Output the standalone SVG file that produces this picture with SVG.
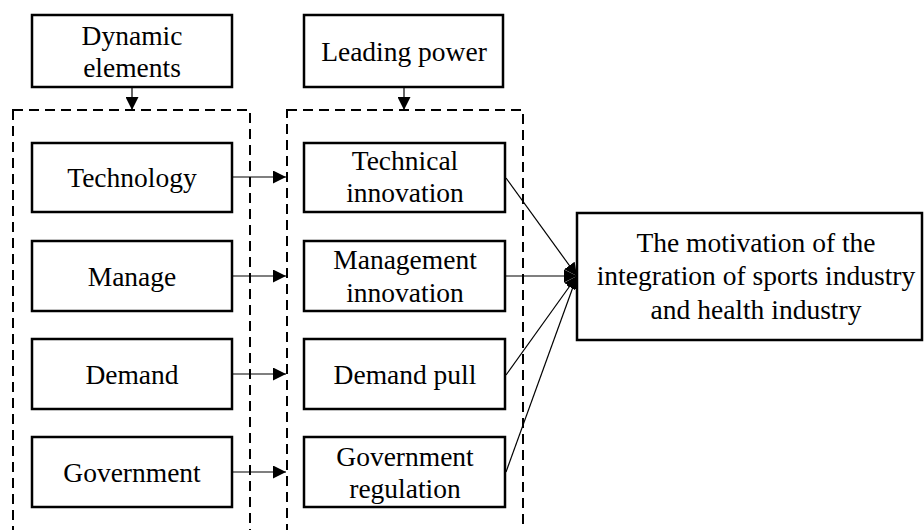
<svg xmlns="http://www.w3.org/2000/svg" width="924" height="530" viewBox="0 0 924 530">
<style>
.box{fill:#fff;stroke:#000;stroke-width:2.5}
.dash{fill:none;stroke:#000;stroke-width:2;stroke-dasharray:10,6}
.t{font-family:"Liberation Serif","Times New Roman",serif;font-size:27.5px;fill:#000;text-anchor:middle}
.ln{stroke:#000;stroke-width:1.2;fill:none}
</style>
<defs>
<marker id="ah2" viewBox="0 0 10 10" refX="10" refY="5" markerWidth="13" markerHeight="13" markerUnits="userSpaceOnUse" orient="auto">
<path d="M0,0 L10,5 L0,10 Z" fill="#000"/>
</marker>
</defs>
<rect width="924" height="530" fill="#fff"/>
<g id="containers">
<rect class="dash" x="13" y="110" width="237" height="440"/>
<rect class="dash" x="287" y="110" width="236" height="440"/>
</g>
<g id="connectors">
<line class="ln" x1="132" y1="87" x2="132" y2="110" marker-end="url(#ah2)"/>
<line class="ln" x1="404" y1="87" x2="404" y2="110" marker-end="url(#ah2)"/>
<line class="ln" x1="233" y1="177" x2="286" y2="177" marker-end="url(#ah2)"/>
<line class="ln" x1="233" y1="276" x2="286" y2="276" marker-end="url(#ah2)"/>
<line class="ln" x1="233" y1="374" x2="286" y2="374" marker-end="url(#ah2)"/>
<line class="ln" x1="233" y1="472" x2="286" y2="472" marker-end="url(#ah2)"/>
<line class="ln" x1="506" y1="178" x2="577" y2="276" marker-end="url(#ah2)"/>
<line class="ln" x1="506" y1="276" x2="577" y2="276" marker-end="url(#ah2)"/>
<line class="ln" x1="506" y1="375" x2="577" y2="276" marker-end="url(#ah2)"/>
<line class="ln" x1="506" y1="472" x2="577" y2="276" marker-end="url(#ah2)"/>
</g>
<g id="dynamic-elements"><rect class="box" x="32" y="15" width="200" height="72"/><text class="t" x="132" y="45">Dynamic</text><text class="t" x="132" y="77">elements</text></g>
<g id="leading-power"><rect class="box" x="304" y="15" width="199" height="72"/><text class="t" x="404" y="61">Leading power</text></g>
<g id="technology"><rect class="box" x="32" y="143" width="200" height="69"/><text class="t" x="132" y="187">Technology</text></g>
<g id="manage"><rect class="box" x="32" y="241" width="200" height="70"/><text class="t" x="132" y="286">Manage</text></g>
<g id="demand"><rect class="box" x="32" y="339" width="200" height="70"/><text class="t" x="132" y="384">Demand</text></g>
<g id="government"><rect class="box" x="32" y="437" width="200" height="70"/><text class="t" x="132" y="482">Government</text></g>
<g id="technical-innovation"><rect class="box" x="304" y="143" width="201" height="69"/><text class="t" x="405" y="170">Technical</text><text class="t" x="405" y="202">innovation</text></g>
<g id="management-innovation"><rect class="box" x="304" y="241" width="201" height="70"/><text class="t" x="405" y="269">Management</text><text class="t" x="405" y="302">innovation</text></g>
<g id="demand-pull"><rect class="box" x="304" y="339" width="201" height="70"/><text class="t" x="405" y="384">Demand pull</text></g>
<g id="government-regulation"><rect class="box" x="304" y="437" width="201" height="70"/><text class="t" x="405" y="466">Government</text><text class="t" x="405" y="498">regulation</text></g>
<g id="motivation"><rect class="box" x="577" y="213" width="345" height="127"/><text class="t" x="756" y="252">The motivation of the</text><text class="t" x="756" y="285">integration of sports industry</text><text class="t" x="756" y="319">and health industry</text></g>
</svg>
